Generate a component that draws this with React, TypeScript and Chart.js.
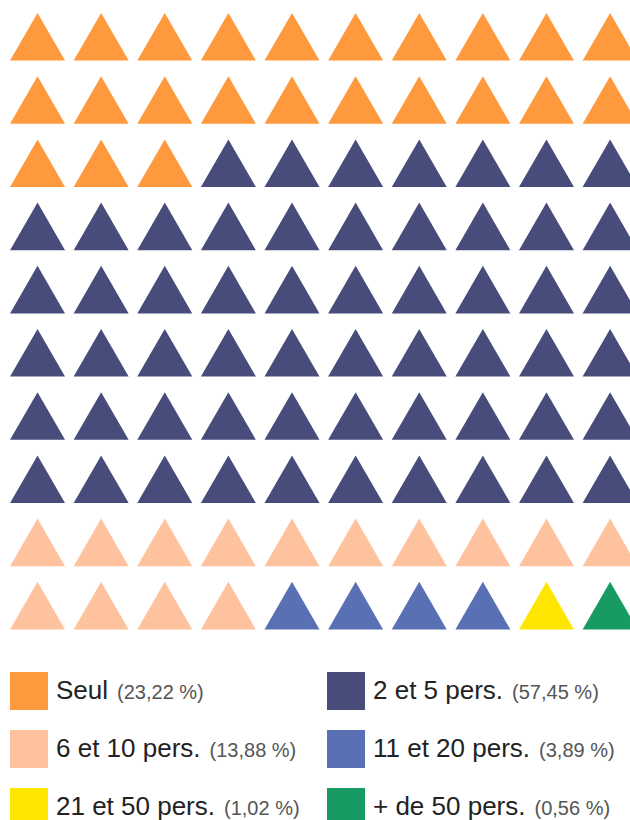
import React, { useEffect, useRef } from "react";
import { Chart, registerables } from "chart.js";

Chart.register(...registerables);

const categories = ["Seul", "2 et 5 pers.", "6 et 10 pers.", "11 et 20 pers.", "21 et 50 pers.", "+ de 50 pers."];
const percentLabels = ["23,22 %", "57,45 %", "13,88 %", "3,89 %", "1,02 %", "0,56 %"];
const iconCounts = [23, 57, 14, 4, 1, 1];
const colors = ["#FF993D", "#474C7A", "#FFC29E", "#5A70B5", "#FFE600", "#189B62"];
const gridColumns = 10;
const gridRows = 10;

export default function App() {
  const canvasRef = useRef<HTMLCanvasElement | null>(null);

  useEffect(() => {
    if (!canvasRef.current) return;
    let index = 0;
    const datasets = categories.map((name, c) => {
      const pts: { x: number; y: number }[] = [];
      for (let k = 0; k < iconCounts[c]; k++) {
        const col = index % gridColumns;
        const row = Math.floor(index / gridColumns);
        pts.push({ x: col, y: gridRows - 1 - row });
        index++;
      }
      return {
        label: name,
        data: pts,
        pointStyle: "triangle" as const,
        pointRadius: 31.75,
        pointHoverRadius: 31.75,
        pointBorderWidth: 0,
        pointHoverBorderWidth: 0,
        backgroundColor: colors[c],
        borderColor: colors[c],
        showLine: false,
        clip: false as const,
      };
    });

    const chart = new Chart(canvasRef.current, {
      type: "scatter",
      data: { datasets },
      options: {
        animation: false,
        responsive: false,
        devicePixelRatio: 1,
        layout: { padding: 0, autoPadding: false },
        events: [],
        scales: {
          x: { type: "linear", min: -0.59, max: 9.47, display: false },
          y: { type: "linear", min: -0.577, max: 9.708, display: false },
        },
        plugins: {
          legend: { display: false },
          tooltip: { enabled: false },
        },
      },
    });
    return () => chart.destroy();
  }, []);

  return (
    <div
      style={{
        position: "fixed",
        left: 0,
        top: 0,
        width: 630,
        height: 820,
        overflow: "hidden",
        background: "#ffffff",
        fontFamily: "'Liberation Sans', Arial, Helvetica, sans-serif",
      }}
    >
      <canvas
        ref={canvasRef}
        width={640}
        height={650}
        style={{ position: "absolute", left: 0, top: 0, width: 640, height: 650 }}
      />
      {categories.map((name, i) => {
        const col = i % 2;
        const row = Math.floor(i / 2);
        return (
          <div
            key={name}
            style={{
              position: "absolute",
              left: col === 0 ? 10 : 327,
              top: 662 + row * 58,
              height: 58,
              display: "flex",
              alignItems: "center",
              whiteSpace: "nowrap",
            }}
          >
            <span
              style={{
                display: "inline-block",
                width: 38,
                height: 38,
                background: colors[i],
                marginRight: 8,
                flex: "none",
              }}
            />
            <span style={{ fontSize: 26, color: "#222222", lineHeight: "30px" }}>
              {name}
              <span style={{ fontSize: 20, color: "#555555", marginLeft: 9 }}>({percentLabels[i]})</span>
            </span>
          </div>
        );
      })}
    </div>
  );
}
